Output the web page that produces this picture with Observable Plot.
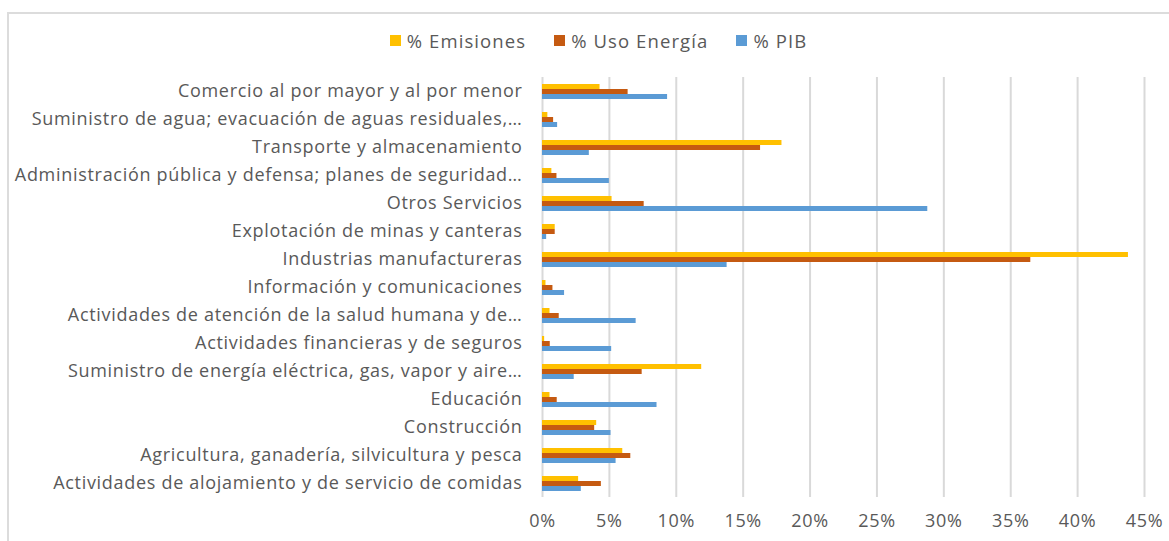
<!DOCTYPE html>
<html>
<head>
<meta charset="utf-8">
<script src="https://cdn.jsdelivr.net/npm/d3@7"></script>
<script src="https://cdn.jsdelivr.net/npm/@observablehq/plot@0.6"></script>
<style>
  html, body { margin: 0; padding: 0; background: #fff; }
  body { width: 1169px; height: 541px; overflow: hidden; position: relative; font-family: "Open Sans", sans-serif; }
  #frame { position: absolute; left: 7px; top: 12px; width: 1200px; height: 600px; border-top: 2px solid #dcdcdc; border-left: 2px solid #dcdcdc; pointer-events: none; }
  #legend { height: 70px; display: flex; justify-content: center; align-items: center; gap: 28px; font-size: 18.5px; letter-spacing: 1.1px; color: #595959; padding-left: 28px; padding-top: 10px; box-sizing: border-box; }
  #legend .item { display: flex; align-items: center; gap: 6px; }
  #legend .sw { width: 11px; height: 11px; display: inline-block; }
  #chart svg { display: block; }
</style>
</head>
<body>
<div id="frame"></div>
<div id="legend"></div>
<div id="chart"></div>
<script>
const categories = [
  "Comercio al por mayor y al por menor",
  "Suministro de agua; evacuación de aguas residuales,…",
  "Transporte y almacenamiento",
  "Administración pública y defensa; planes de seguridad…",
  "Otros Servicios",
  "Explotación de minas y canteras",
  "Industrias manufactureras",
  "Información y comunicaciones",
  "Actividades de atención de la salud humana y de…",
  "Actividades financieras y de seguros",
  "Suministro de energía eléctrica, gas, vapor y aire…",
  "Educación",
  "Construcción",
  "Agricultura, ganadería, silvicultura y pesca",
  "Actividades de alojamiento y de servicio de comidas"
];
const seriesNames = ["% Emisiones", "% Uso Energía", "% PIB"];
const seriesColors = ["#FFC000", "#C55A11", "#5B9BD5"];
const emisiones  = [4.3, 0.4, 17.9, 0.7, 5.2, 0.95, 43.8, 0.26, 0.56, 0.16, 11.9, 0.56, 4.05, 6.0, 2.7];
const usoEnergia = [6.4, 0.83, 16.3, 1.08, 7.6, 0.95, 36.5, 0.78, 1.25, 0.58, 7.45, 1.1, 3.9, 6.6, 4.4];
const pib        = [9.35, 1.13, 3.5, 5.0, 28.8, 0.31, 13.8, 1.65, 7.0, 5.17, 2.37, 8.56, 5.12, 5.5, 2.9];
const xTicks = [0, 5, 10, 15, 20, 25, 30, 35, 40, 45];

const seriesValues = [emisiones, usoEnergia, pib];
const rows = [];
categories.forEach((c, i) => {
  seriesNames.forEach((s, j) => rows.push({category: c, series: s, value: seriesValues[j][i] / 100}));
});

const legend = document.getElementById("legend");
seriesNames.forEach((s, j) => {
  const it = document.createElement("span");
  it.className = "item";
  it.innerHTML = `<span class="sw" style="background:${seriesColors[j]}"></span><span>${s}</span>`;
  legend.appendChild(it);
});

const chart = Plot.plot({
  width: 1169,
  height: 471,
  marginLeft: 542,
  marginRight: 25,
  marginTop: 6,
  marginBottom: 43,
  style: {fontFamily: "'Open Sans', sans-serif", fontSize: "18px", letterSpacing: "0.7px", color: "#595959", background: "transparent"},
  x: {domain: [0, 0.45], ticks: xTicks.map(d => d / 100), tickFormat: d => Math.round(d * 100) + "%", tickSize: 0, tickPadding: 17, label: null},
  y: {domain: seriesNames, axis: null, paddingInner: 0, paddingOuter: 0.9},
  fy: {domain: categories, padding: 0, label: null, tickSize: 0, tickPadding: 20},
  color: {domain: seriesNames, range: seriesColors},
  facet: {data: rows, y: "category", marginLeft: 542},
  marks: [
    Plot.gridX(xTicks.map(d => d / 100), {stroke: "#d9d9d9", strokeOpacity: 1, strokeWidth: 2}),
    Plot.barX(rows, {x: "value", y: "series", fill: "series", inset: 0})
  ]
});
document.getElementById("chart").appendChild(chart);
</script>
</body>
</html>
